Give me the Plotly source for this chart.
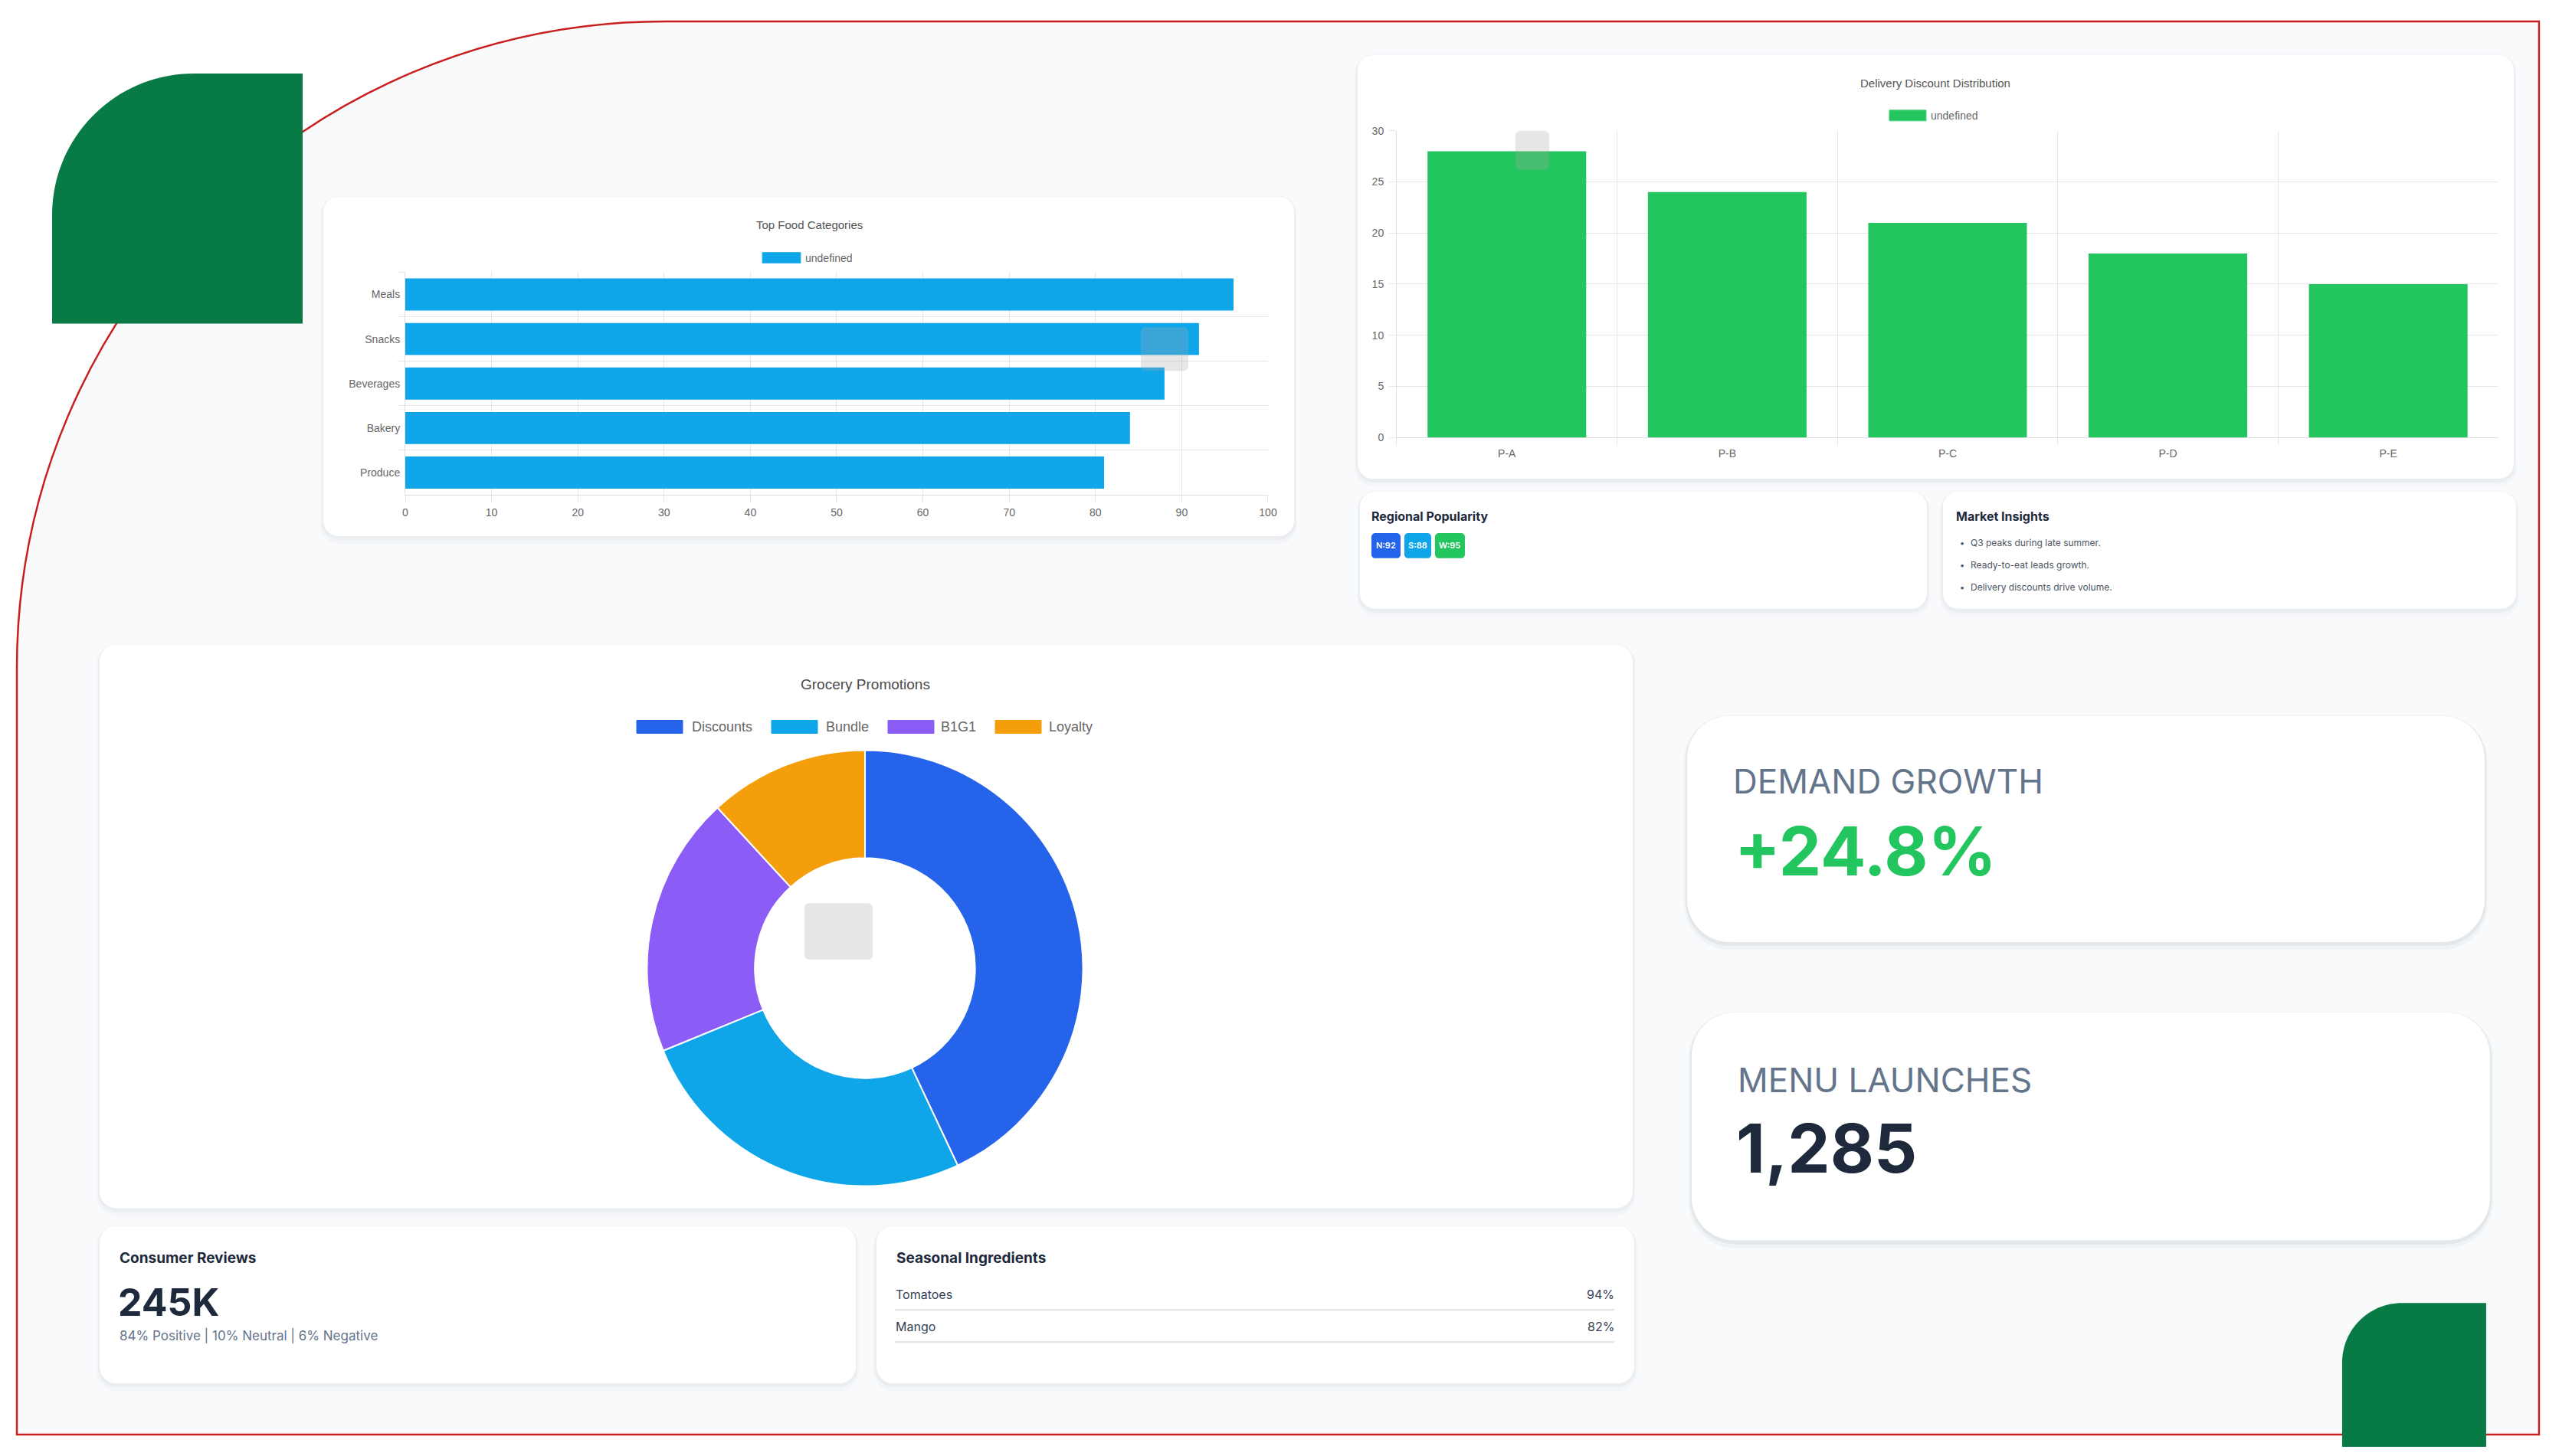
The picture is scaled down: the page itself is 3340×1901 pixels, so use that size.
import plotly.graph_objects as go

W, H = 3340, 1901

# ---------------- data ----------------
food_categories = ["Meals", "Snacks", "Beverages", "Bakery", "Produce"]
food_values = [96, 92, 88, 84, 81]

partners = ["P-A", "P-B", "P-C", "P-D", "P-E"]
discount_values = [28, 24, 21, 18, 15]

promo_labels = ["Discounts", "Bundle", "B1G1", "Loyalty"]
promo_values = [40, 24, 18, 11]
promo_colors = ["#2563eb", "#0ea5e9", "#8b5cf6", "#f59e0b"]

regions = ["N", "S", "W"]
region_scores = [92, 88, 95]
region_colors = ["#2563eb", "#0ea5e9", "#22c55e"]

insights = ["Q3 peaks during late summer.", "Ready-to-eat leads growth.", "Delivery discounts drive volume."]

ingredients = ["Tomatoes", "Mango"]
ingredient_pct = [94, 82]

reviews_total = "245K"
review_labels = ["Positive", "Neutral", "Negative"]
review_pct = [84, 10, 6]

kpi_labels = ["DEMAND GROWTH", "MENU LAUNCHES"]
demand_growth = 24.8
menu_launches = 1285

# ---------------- helpers ----------------
K = 0.5523
CHART_FONT = "Liberation Sans, Arial, sans-serif"
CARD_FONT = "Inter, Roboto, sans-serif"

# the page is photographed slightly scaled; positions below are given in
# photographed pixels and mapped back to figure pixels here
SX = W / (W + 16)
SY = H / (H + 13)


def fx(x):
    return (x / SX - 4) / W


def fy(y):
    return 1 - (y / SY - 8) / H


def P(x, y):
    return f"{fx(x):.6f},{fy(y):.6f}"


def rrect(x0, y0, x1, y1, r):
    k = K * r
    return (
        f"M{P(x0 + r, y0)} L{P(x1 - r, y0)} "
        f"C{P(x1 - r + k, y0)} {P(x1, y0 + r - k)} {P(x1, y0 + r)} "
        f"L{P(x1, y1 - r)} "
        f"C{P(x1, y1 - r + k)} {P(x1 - r + k, y1)} {P(x1 - r, y1)} "
        f"L{P(x0 + r, y1)} "
        f"C{P(x0 + r - k, y1)} {P(x0, y1 - r + k)} {P(x0, y1 - r)} "
        f"L{P(x0, y0 + r)} "
        f"C{P(x0, y0 + r - k)} {P(x0 + r - k, y0)} {P(x0 + r, y0)} Z"
    )


shapes = []
annotations = []


def add_path(path, fill, line_color=None, line_width=0, layer="below"):
    shapes.append(dict(type="path", xref="paper", yref="paper", path=path,
                       fillcolor=fill, layer=layer,
                       line=dict(color=line_color or "rgba(0,0,0,0)", width=line_width)))


def add_line(x0, y0, x1, y1, color, width):
    shapes.append(dict(type="line", xref="paper", yref="paper", x0=fx(x0), y0=fy(y0),
                       x1=fx(x1), y1=fy(y1), layer="below", line=dict(color=color, width=width)))


def card(x0, y0, x1, y1, r, strong=False):
    a = 0.05 if strong else 0.03
    add_path(rrect(x0 - 4, y0 - 1, x1 + 4, y1 + 10, r + 4), f"rgba(15,23,42,{a*0.6:.3f})")
    add_path(rrect(x0 - 2, y0, x1 + 2, y1 + 5, r + 2), f"rgba(15,23,42,{a:.3f})")
    add_path(rrect(x0, y0, x1, y1, r), "#ffffff")


def text(x, y, s, size, color, family=CARD_FONT, xanchor="left", weight=400):
    annotations.append(dict(x=fx(x), y=fy(y), xref="paper", yref="paper", text=s,
                            showarrow=False, xanchor=xanchor, yanchor="middle",
                            font=dict(size=size, color=color, family=family, weight=weight)))


# ---------------- background frame ----------------
R = 846
cx, cy = 868, 874
frame = (f"M{P(22, 1876)} L{P(22, cy)} "
         f"C{P(22, cy - K * R)} {P(cx - K * R, 28)} {P(cx, 28)} "
         f"L{P(3314, 28)} L{P(3314, 1876)} Z")
add_path(frame, "#f8fafc", "#c81e1e", 2.5)

# green decorations
g0 = 185
green_tl = (f"M{P(68, 423)} L{P(68, 96 + g0)} "
            f"C{P(68, 96 + g0 - K * g0)} {P(68 + g0 - K * g0, 96)} {P(68 + g0, 96)} "
            f"L{P(395, 96)} L{P(395, 423)} Z")
add_path(green_tl, "#077a45")
g1 = 78
green_br = (f"M{P(3057, 1892)} L{P(3057, 1704 + g1)} "
            f"C{P(3057, 1704 + g1 - K * g1)} {P(3057 + g1 - K * g1, 1704)} {P(3057 + g1, 1704)} "
            f"L{P(3245, 1704)} L{P(3245, 1892)} Z")

# ---------------- cards ----------------
card(422, 257, 1689, 701, 20)      # top food
card(1772, 72, 3281, 626, 20)      # delivery
card(1775, 643, 2515, 796, 20)     # regional
card(2536, 643, 3284, 796, 20)     # insights
card(130, 843, 2131, 1580, 22)     # grocery
card(130, 1603, 1117, 1809, 22)    # reviews
card(1144, 1603, 2133, 1809, 22)   # seasonal
card(2202, 936, 3243, 1232, 56, strong=True)   # demand
card(2208, 1324, 3250, 1622, 56, strong=True)  # menu

add_path(green_br, "#077a45")

GRID = "#e6e6e6"
TICK = dict(size=14, color="#666666", family=CHART_FONT)

# ---------------- Top Food Categories ----------------
text(1057, 294, "Top Food Categories", 15, "#555555", CHART_FONT, "center")
add_path(rrect(995, 330, 1045, 344, 0.1), "#0ea5e9", "#38b6f0", 1)
text(1049, 337, "undefined", 14, "#666666", CHART_FONT)

# ---------------- Delivery Discount Distribution ----------------
text(2526, 109, "Delivery Discount Distribution", 15, "#555555", CHART_FONT, "center")
add_path(rrect(2466, 144, 2514, 158, 0.1), "#22c55e", "#4ad07c", 1)
text(2518, 151, "undefined", 14, "#666666", CHART_FONT)

# ---------------- Regional popularity ----------------
text(1788, 675, "Regional Popularity", 16, "#1e293b", CARD_FONT, weight=700)
badge_x = [(1790, 1828), (1833, 1868), (1873, 1912)]
for (bx0, bx1), rg, sc, col in zip(badge_x, regions, region_scores, region_colors):
    add_path(rrect(bx0, 697, bx1, 730, 5), col)
    text((bx0 + bx1) / 2, 713.5, f"{rg}:{sc}", 11, "#ffffff", CARD_FONT, "center", 600)

# ---------------- Market insights ----------------
text(2551, 675, "Market Insights", 16, "#1e293b", CARD_FONT, weight=700)
for i, s in enumerate(insights):
    yy = 710 + i * 29
    text(2556, yy, "•", 11, "#4b5563", CARD_FONT)
    text(2570, yy, s, 12, "#4b5563", CARD_FONT)

# ---------------- Grocery promotions ----------------
text(1130, 895, "Grocery Promotions", 19, "#4a4a4a", CHART_FONT, "center", 500)
legend_pos = [(831, 904), (1007, 1079), (1159, 1229), (1299, 1370)]
for (bx, tx), lab, col in zip(legend_pos, promo_labels, promo_colors):
    add_path(rrect(bx, 942, bx + 60, 959, 0.1), col, col, 1)
    text(tx - 3, 950, lab, 18, "#666666", CHART_FONT)

# ---------------- Consumer reviews ----------------
text(154, 1645, "Consumer Reviews", 19, "#1e293b", CARD_FONT, weight=700)
text(152, 1703, reviews_total, 50, "#1e293b", CARD_FONT, weight=700)
split = " | ".join(f"{p}% {l}" for l, p in zip(review_labels, review_pct))
text(154, 1746, split, 17, "#64748b", CARD_FONT)

# ---------------- Seasonal ingredients ----------------
text(1168, 1645, "Seasonal Ingredients", 19, "#1e293b", CARD_FONT, weight=700)
for i, (ing, pct) in enumerate(zip(ingredients, ingredient_pct)):
    yy = 1693 + i * 42
    text(1167, yy, ing, 16, "#334155", CARD_FONT)
    text(2109, yy, f"{pct}%", 16, "#334155", CARD_FONT, "right")
    add_line(1168, yy + 20, 2107, yy + 20, "#e5e7eb", 2.5)

# ---------------- KPI cards ----------------
text(2260, 1022, kpi_labels[0], 44, "#64748b", CARD_FONT)
text(2262, 1113, f"+{demand_growth}%", 88, "#22c55e", CARD_FONT, weight=700)
text(2266, 1412, kpi_labels[1], 44, "#64748b", CARD_FONT)
text(2264, 1501, f"{menu_launches:,}", 88, "#1e293b", CARD_FONT, weight=700)

# faded tooltip remnants
for (tx0, ty0, tx1, ty1) in [(1489, 428, 1551, 485), (1978, 171, 2022, 222), (1050, 1181, 1139, 1255)]:
    add_path(rrect(tx0, ty0, tx1, ty1, 6), "rgba(170,170,170,0.28)", layer="above")

# ---------------- traces ----------------
fig = go.Figure()
fig.add_trace(go.Bar(x=food_values, y=food_categories, orientation="h",
                     marker=dict(color="#0ea5e9", line=dict(width=0)), width=0.72,
                     xaxis="x", yaxis="y", showlegend=False, hoverinfo="skip"))
fig.add_trace(go.Bar(x=partners, y=discount_values,
                     marker=dict(color="#22c55e", line=dict(width=0)), width=0.72,
                     xaxis="x2", yaxis="y2", showlegend=False, hoverinfo="skip"))
fig.add_trace(go.Pie(labels=promo_labels, values=promo_values, sort=False,
                     direction="clockwise", rotation=0, hole=0.505,
                     marker=dict(colors=promo_colors, line=dict(color="#ffffff", width=2)),
                     textinfo="none", showlegend=False, hoverinfo="skip",
                     domain=dict(x=[fx(844), fx(1414)], y=[fy(1551), fy(981)])))

axis_common = dict(showgrid=True, gridcolor=GRID, gridwidth=1, zeroline=False,
                   ticks="outside", ticklen=9, tickcolor=GRID, tickfont=TICK,
                   showline=True, linecolor="#dedede", linewidth=1, fixedrange=True)

fig.update_layout(
    width=W, height=H, margin=dict(l=0, r=0, t=0, b=0, pad=0),
    paper_bgcolor="#ffffff", plot_bgcolor="rgba(0,0,0,0)",
    showlegend=False, bargap=0.28,
    xaxis=dict(domain=[fx(529), fx(1655)], range=[0, 100], dtick=10, anchor="y",
               ticklabelstandoff=1, **axis_common),
    yaxis=dict(domain=[fy(647), fy(356)], anchor="x", type="category",
               categoryorder="array", categoryarray=food_categories, autorange="reversed",
               tickson="boundaries", ticklabelstandoff=3, **axis_common),
    xaxis2=dict(domain=[fx(1823), fx(3261)], anchor="y2", type="category",
                categoryorder="array", categoryarray=partners, tickson="boundaries",
                ticklabelstandoff=8, **axis_common),
    yaxis2=dict(domain=[fy(572), fy(171)], anchor="x2", range=[0, 30], dtick=5,
                ticklabelstandoff=4, **axis_common),
    shapes=shapes, annotations=annotations,
)

fig.write_html("out.html", include_plotlyjs=True, config={"displayModeBar": False})
